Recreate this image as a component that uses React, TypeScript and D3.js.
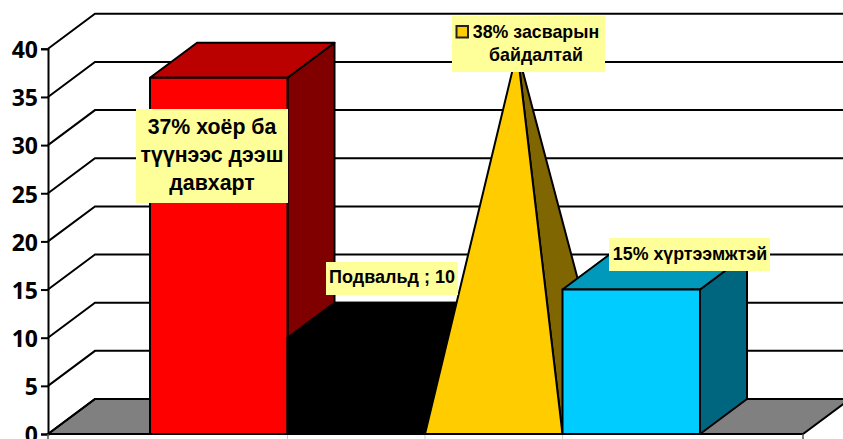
import React, { useRef, useEffect } from "react";
import * as d3 from "d3";

const seriesNames = ["two", "basement", "repair", "communal"];
const seriesValues = [37, 10, 38, 15];
const shapes = ["box", "box", "cone", "box"];
const frontColors = ["#ff0000", "#000000", "#ffcc00", "#00ccff"];
const topColors = ["#bb0000", "#000000", "#ffcc00", "#0099bb"];
const sideColors = ["#800000", "#000000", "#806600", "#006680"];
const yTicks = [0, 5, 10, 15, 20, 25, 30, 35, 40];

const width = 843;
const height = 439;
const plotLeft = 48;
const plotRight = 803;
const barsLeft = 150;
const barsRight = 700;
const y0 = 434;
const y40 = 48.8;
const depthX = 47;
const depthY = -35;
const lineW = 2;

const labelBoxes = [
  { lines: ["37% хоёр ба", "түүнээс дээш", "давхарт"], x: 136, y: 109, w: 152, h: 94, size: 21.3, lead: 28, first: 25, cx: 212 },
  { lines: ["Подвальд ; 10"], x: 326, y: 262, w: 132, h: 33, size: 18, lead: 0, first: 21, cx: 392 },
  { lines: ["38% засварын", "байдалтай"], x: 452, y: 16, w: 153, h: 56, size: 17.8, lead: 23, first: 22, cx: 536 },
  { lines: ["15% хүртээмжтэй"], x: 609, y: 238, w: 161, h: 33, size: 17.8, lead: 0, first: 22, cx: 690 },
];

const App = () => {
  const svgRef = useRef<SVGSVGElement>(null);

  useEffect(() => {
    const svg = d3.select(svgRef.current);
    svg.selectAll("*").remove();

    const yScale = d3.scaleLinear().domain([0, 40]).range([y0, y40]);
    const xScale = d3.scaleBand().domain(seriesNames).range([barsLeft, barsRight]).padding(0);
    const poly = (pts: number[][]) => pts.map((p) => p.join(",")).join(" ");

    // floor
    svg.append("polygon")
      .attr("points", poly([
        [plotLeft, y0],
        [plotLeft + depthX, y0 + depthY],
        [plotRight + depthX, y0 + depthY],
        [plotRight, y0],
      ]))
      .attr("fill", "#808080")
      .attr("stroke", "#000")
      .attr("stroke-width", lineW);

    // walls
    yTicks.forEach((t) => {
      const y = yScale(t);
      svg.append("polyline")
        .attr("points", poly([
          [plotLeft, y],
          [plotLeft + depthX, y + depthY],
          [width + 5, y + depthY],
        ]))
        .attr("fill", "none")
        .attr("stroke", "#000")
        .attr("stroke-width", lineW);
    });

    const yAxis = svg.append("g")
      .attr("transform", `translate(${plotLeft},0)`)
      .call(d3.axisLeft(yScale).tickValues(yTicks).tickSize(7).tickPadding(3));
    yAxis.select(".domain").attr("stroke", "#000").attr("stroke-width", lineW);
    yAxis.selectAll("line").attr("stroke", "#000").attr("stroke-width", lineW);
    yAxis.selectAll("text")
      .attr("font-family", "'Open Sans'")
      .attr("font-weight", "bold")
      .attr("font-size", 23)
      .attr("dy", "0.38em")
      .attr("fill", "#000");

    // bars, left to right so the later ones cover the earlier sides
    seriesNames.forEach((name, i) => {
      const x0 = xScale(name) as number;
      const x1 = x0 + xScale.bandwidth();
      const top = yScale(seriesValues[i]);
      const face = (pts: number[][], fill: string) =>
        svg.append("polygon")
          .attr("points", poly(pts))
          .attr("fill", fill)
          .attr("stroke", "#000")
          .attr("stroke-width", lineW)
          .attr("stroke-linejoin", "round");

      if (shapes[i] === "cone") {
        const apex = [(x0 + x1) / 2 + depthX / 2, top + depthY / 2];
        face([apex, [x1, y0], [x1 + depthX, y0 + depthY]], sideColors[i]);
        face([apex, [x0, y0], [x1, y0]], frontColors[i]);
        return;
      }
      face([[x1, y0], [x1 + depthX, y0 + depthY], [x1 + depthX, top + depthY], [x1, top]], sideColors[i]);
      face([[x0, top], [x0 + depthX, top + depthY], [x1 + depthX, top + depthY], [x1, top]], topColors[i]);
      face([[x0, y0], [x0, top], [x1, top], [x1, y0]], frontColors[i]);
    });

    // base axis
    svg.append("line")
      .attr("x1", plotLeft).attr("x2", plotRight)
      .attr("y1", y0).attr("y2", y0)
      .attr("stroke", "#000").attr("stroke-width", lineW);
    [plotLeft, plotRight].forEach((x) => {
      svg.append("line")
        .attr("x1", x).attr("x2", x)
        .attr("y1", y0).attr("y2", y0 + 5)
        .attr("stroke", "#555").attr("stroke-width", 1.5);
    });
    seriesNames.slice(1).forEach((name) => {
      const x = xScale(name) as number;
      svg.append("line")
        .attr("x1", x).attr("x2", x)
        .attr("y1", y0 + 1).attr("y2", y0 + 5)
        .attr("stroke", "#ccc").attr("stroke-width", 1);
    });

    // data labels
    labelBoxes.forEach((b, n) => {
      svg.append("rect")
        .attr("x", b.x).attr("y", b.y)
        .attr("width", b.w).attr("height", b.h)
        .attr("fill", "#ffff99");
      b.lines.forEach((line, k) => {
        svg.append("text")
          .attr("x", b.cx)
          .attr("y", b.y + b.first + k * b.lead)
          .attr("text-anchor", "middle")
          .attr("font-family", "'Liberation Sans'")
          .attr("font-weight", "bold")
          .attr("font-size", b.size)
          .attr("fill", "#000")
          .text(line);
      });
      // legend key in the repair label
      if (n === 2) {
        svg.append("rect")
          .attr("x", b.x + 4.5).attr("y", b.y + 10)
          .attr("width", 11.5).attr("height", 11.5)
          .attr("fill", frontColors[2])
          .attr("stroke", "#222")
          .attr("stroke-width", 2);
      }
    });
  }, []);

  return (
    <svg
      ref={svgRef}
      width={width}
      height={height}
      style={{ position: "absolute", left: 0, top: 0, background: "#fff" }}
    ></svg>
  );
};

export default App;
